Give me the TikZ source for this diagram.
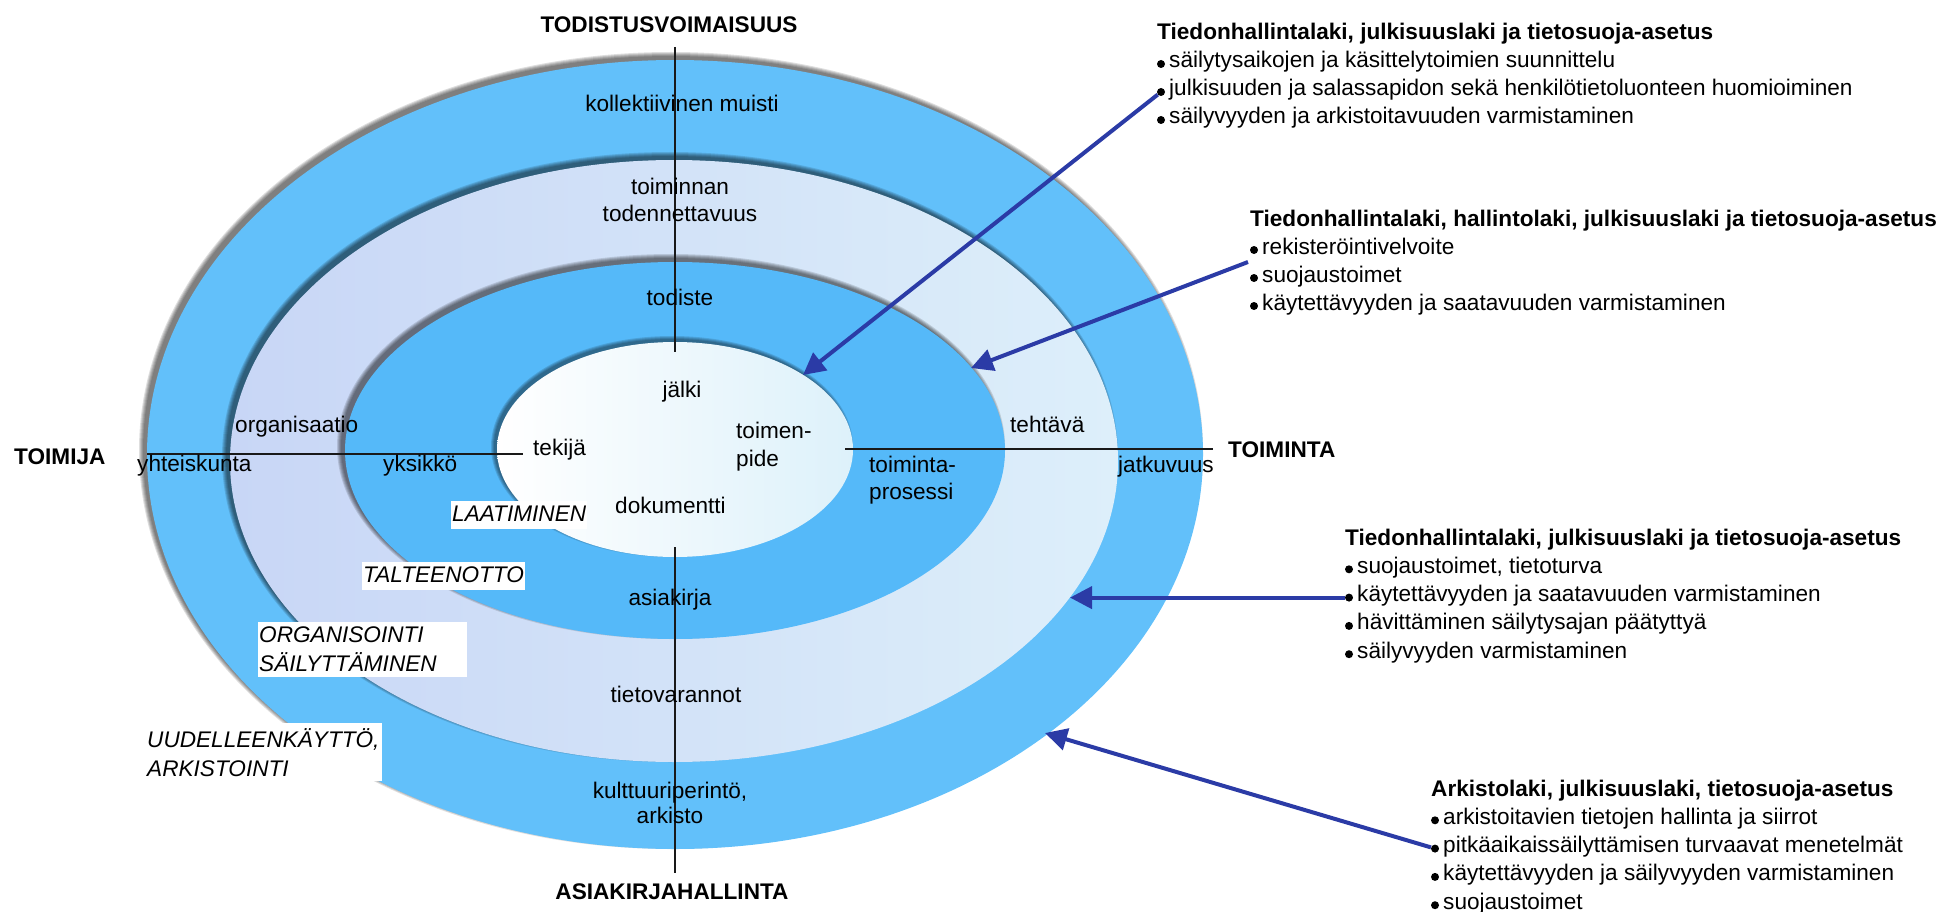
\documentclass[tikz,border=0pt]{standalone}
\usepackage{fontspec}
\setmainfont{Liberation Sans}
\usetikzlibrary{arrows.meta,positioning}

\definecolor{ringout}{HTML}{62C0FA}
\definecolor{ringin}{HTML}{55B9F9}
\definecolor{lavleft}{HTML}{C8D6F6}
\definecolor{lavright}{HTML}{DDEFFA}
\definecolor{coreright}{HTML}{DDF1FA}
\definecolor{arrowblue}{HTML}{2B3BA6}

\newcommand{\lblfont}{\fontsize{22.6}{28}\selectfont}
\newcommand{\itfont}{\fontsize{22.6}{29}\selectfont\itshape}
\newcommand{\hdfont}{\fontsize{22.6}{28}\selectfont\bfseries}

\begin{document}
\begin{tikzpicture}
[
    x=1pt, y=-1pt,
    lbl/.style={anchor=base, font=\lblfont, inner sep=0pt},
    lblw/.style={anchor=base west, font=\lblfont, inner sep=0pt},
    pole/.style={font=\hdfont, inner sep=0pt},
    hline/.style={draw=black!90, line width=2pt},
    rimshadow/.style={fill=black, fill opacity=0.13},
    ibox/.style={fill=white, font=\itfont, inner xsep=1pt},
    law/.style={anchor=base west, font=\hdfont, inner sep=0pt},
    entry/.style={anchor=base west, font=\lblfont, inner sep=0pt},
    dot/.style={circle, fill=black, inner sep=0pt, minimum size=8pt},
    arr/.style={draw=arrowblue, line width=4pt, -{Triangle[length=22pt, width=22pt]}}
]
    \useasboundingbox (0,0) rectangle (1945,912);

    \foreach \k in {0,...,4}
        \fill[rimshadow] (671,450.5) ellipse [x radius=528+\k, y radius=394.5+\k];
    \fill[ringout] (675,454.5) ellipse [x radius=528, y radius=394.5];

    \foreach \k in {0,...,4}
        \fill[rimshadow] (670,457) ellipse [x radius=444+\k, y radius=301+\k];
    \shade[left color=lavleft, right color=lavright] (674,461) ellipse [x radius=444, y radius=301];

    \foreach \k in {0,...,4}
        \fill[rimshadow] (671,446.5) ellipse [x radius=330+\k, y radius=188.5+\k];
    \fill[ringin] (675,450.5) ellipse [x radius=330, y radius=188.5];

    \foreach \k in {0,...,3}
        \fill[rimshadow] (672,446.5) ellipse [x radius=178+\k, y radius=107.5+\k];
    \shade[left color=white, right color=coreright] (675,449.5) ellipse [x radius=178, y radius=107.5];

    \node[ibox, anchor=base west, text height=16pt, text depth=4pt, inner ysep=4pt] (laat) at (451,521) {LAATIMINEN};
    \node[ibox, anchor=base west, text height=16pt, text depth=4pt, inner ysep=4pt] (talt) at (362,582) {TALTEENOTTO};
    \node[ibox, anchor=north west, text width=207pt, align=left, inner ysep=5pt] (organ) at (258,622) {ORGANISOINTI\\SÄILYTTÄMINEN};
    \node[ibox, anchor=north west, text width=234pt, align=left, inner ysep=5pt] (uudell) at (146,723) {UUDELLEENKÄYTTÖ,\\ARKISTOINTI};

    \coordinate (axN1) at (675,47);
    \coordinate (axN2) at (675,352);
    \coordinate (axS1) at (675,547);
    \coordinate (axS2) at (675,873);
    \coordinate (axW1) at (147,454);
    \coordinate (axW2) at (523,454);
    \coordinate (axE1) at (845,449);
    \coordinate (axE2) at (1213,449);
    \draw[hline] (axN1) -- (axN2);
    \draw[hline] (axS1) -- (axS2);
    \draw[hline] (axW1) -- (axW2);
    \draw[hline] (axE1) -- (axE2);

    \node[pole, anchor=base] (todist) at (669,33) {TODISTUSVOIMAISUUS};
    \node[pole, anchor=base] (asiakh) at (672,899) {ASIAKIRJAHALLINTA};
    \node[pole, anchor=base west] (toimija) at (14,464) {TOIMIJA};
    \node[pole, anchor=base west] (toiminta) at (1228,457) {TOIMINTA};

    \node[lbl] (muisti) at (682,112) {kollektiivinen muisti};
    \node[lbl] (toiminnan) at (680,194) {toiminnan};
    \node[lbl] (todennet) at (680,222) {todennettavuus};
    \node[lbl] (todiste) at (680,305) {todiste};
    \node[lbl] (jalki) at (682,397) {jälki};
    \node[lblw] (organis) at (235,432) {organisaatio};
    \node[lblw] (tehtava) at (1010,432) {tehtävä};
    \node[lblw] (toimen) at (736,438) {toimen-};
    \node[lblw] (pide) at (736,466) {pide};
    \node[lblw] (tekija) at (533,455) {tekijä};
    \node[lblw] (yhteis) at (137,471) {yhteiskunta};
    \node[lblw] (yksikko) at (383,471) {yksikkö};
    \node[lblw] (toimintap) at (869,472) {toiminta-};
    \node[lblw] (prosessi) at (869,499) {prosessi};
    \node[lblw] (jatkuvuus) at (1118,472) {jatkuvuus};
    \node[lblw] (dokum) at (615,513) {dokumentti};
    \node[lbl] (asiakirja) at (670,605) {asiakirja};
    \node[lbl] (tietovar) at (676,702) {tietovarannot};
    \node[lbl] (kulttuuri) at (670,798) {kulttuuriperintö,};
    \node[lbl] (arkisto) at (670,823) {arkisto};

    \node[law] (lawA) at (1157,40) {Tiedonhallintalaki, julkisuuslaki ja tietosuoja-asetus};
    \foreach \txt [count=\i] in {säilytysaikojen ja käsittelytoimien suunnittelu, julkisuuden ja salassapidon sekä henkilötietoluonteen huomioiminen, säilyvyyden ja arkistoitavuuden varmistaminen}
    {
        \node[entry] (a\i) at (1169,40+28*\i) {\txt};
        \node[dot] (da\i) at ([xshift=-8pt,yshift=4pt]a\i.base west) {};
    }

    \node[law] (lawB) at (1250,226) {Tiedonhallintalaki, hallintolaki, julkisuuslaki ja tietosuoja-asetus};
    \foreach \txt [count=\i] in {rekisteröintivelvoite, suojaustoimet, käytettävyyden ja saatavuuden varmistaminen}
    {
        \node[entry] (b\i) at (1262,226+28*\i) {\txt};
        \node[dot] (db\i) at ([xshift=-8pt,yshift=4pt]b\i.base west) {};
    }

    \node[law] (lawC) at (1345,545) {Tiedonhallintalaki, julkisuuslaki ja tietosuoja-asetus};
    \foreach \txt [count=\i] in {{suojaustoimet, tietoturva}, käytettävyyden ja saatavuuden varmistaminen, hävittäminen säilytysajan päätyttyä, säilyvyyden varmistaminen}
    {
        \node[entry] (c\i) at (1357,545+28.3*\i) {\txt};
        \node[dot] (dc\i) at ([xshift=-8pt,yshift=4pt]c\i.base west) {};
    }

    \node[law] (lawD) at (1431,796) {Arkistolaki, julkisuuslaki, tietosuoja-asetus};
    \foreach \txt [count=\i] in {arkistoitavien tietojen hallinta ja siirrot, pitkäaikaissäilyttämisen turvaavat menetelmät, käytettävyyden ja säilyvyyden varmistaminen, suojaustoimet}
    {
        \node[entry] (d\i) at (1443,796+28.3*\i) {\txt};
        \node[dot] (dd\i) at ([xshift=-8pt,yshift=4pt]d\i.base west) {};
    }

    \coordinate (tipA) at (803,375);
    \coordinate (tipB) at (971,368);
    \coordinate (tipC) at (1070,597.6);
    \coordinate (tipD) at (1045,733);
    \coordinate (srcB) at ([xshift=-6pt,yshift=-12pt]db1.center);

    \draw[arr] (da2) -- (tipA);
    \draw[arr] (srcB) -- (tipB);
    \draw[arr] (dc2) -- (tipC);
    \draw[arr] (dd2) -- (tipD);
\end{tikzpicture}
\end{document}
